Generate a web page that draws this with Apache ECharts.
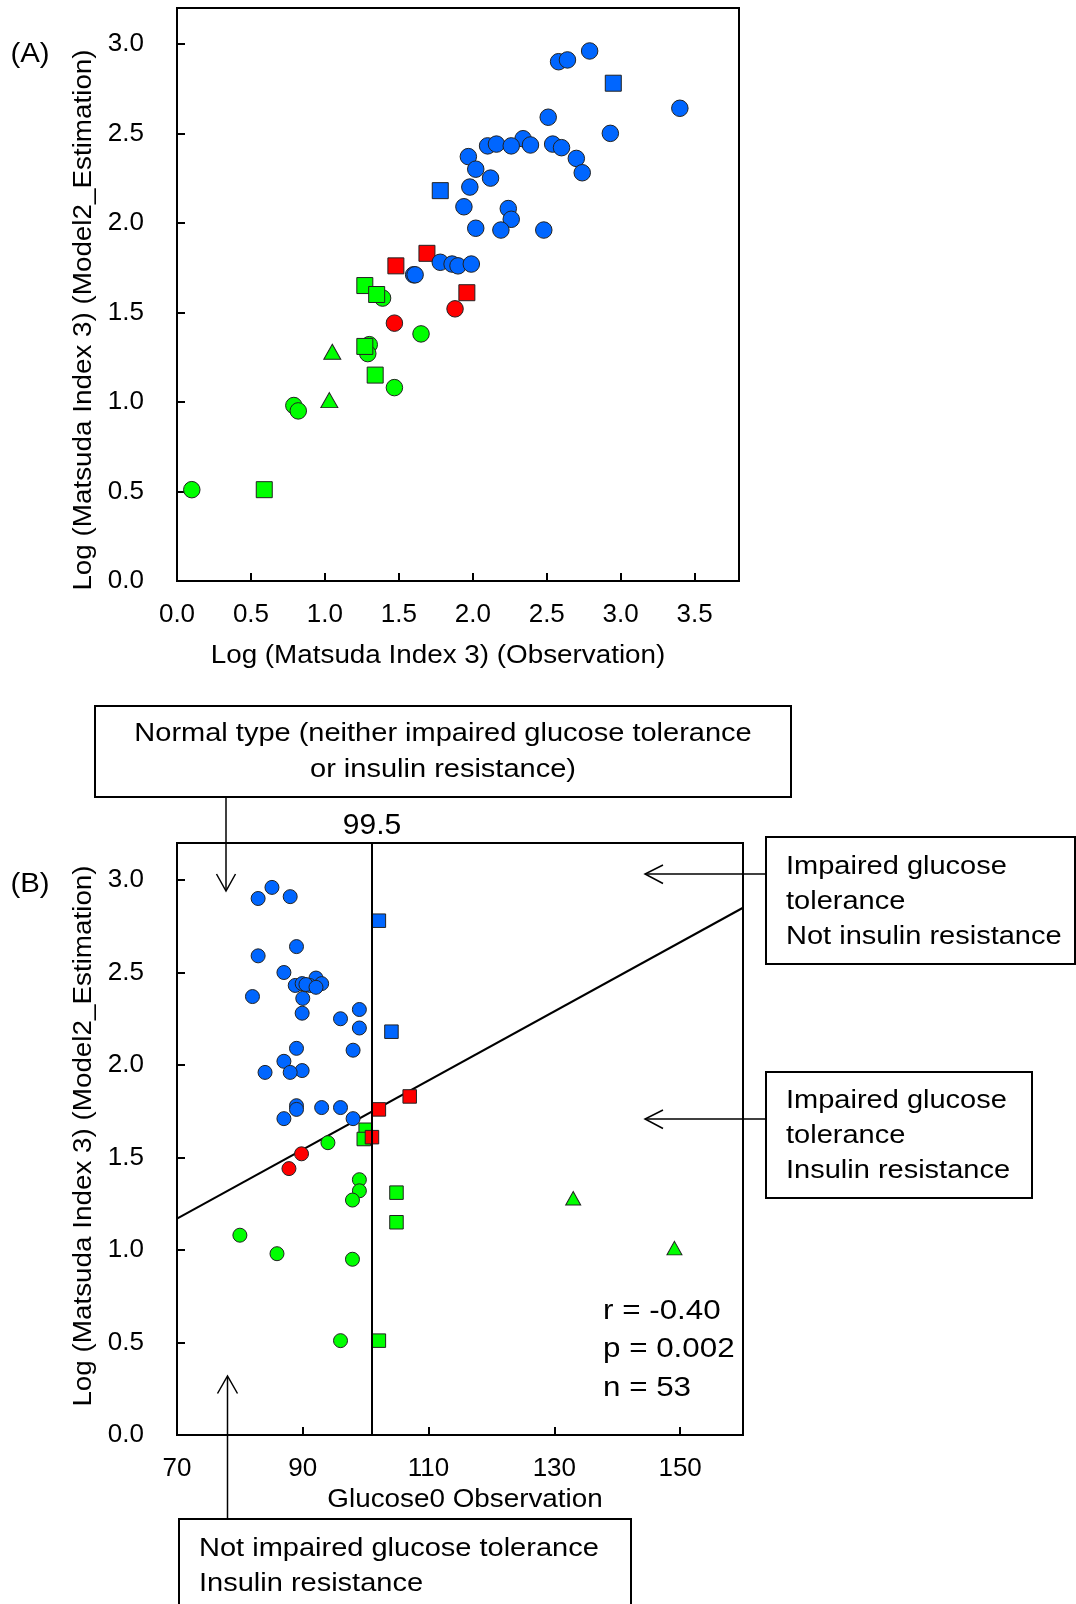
<!DOCTYPE html>
<html>
<head>
<meta charset="utf-8">
<title>Log Matsuda Index 3 - estimation vs observation</title>
<script src="https://cdn.jsdelivr.net/npm/echarts@6.0.0/dist/echarts.min.js"></script>
<style>
  html, body { margin: 0; padding: 0; background: #fff; }
  #chart { width: 1076px; height: 1604px; }
</style>
</head>
<body>
<div id="chart"></div>
<script>
// values, one entry per subject
// obs = log Matsuda observed (panel A x), est = model estimate (y of both panels), glu = fasting glucose (panel B x)
const blueCircleObs = [2.58, 2.64, 2.79, 3.40, 2.51, 2.93, 2.34, 2.10, 2.16, 2.26, 2.39, 2.54, 2.60, 1.97, 2.70, 2.02,
  2.74, 2.12, 1.98, 1.94, 2.24, 2.26, 2.02, 2.19, 2.48, 1.78, 1.86, 1.90, 1.99, 1.60, 1.61];
const blueCircleEst = [2.90, 2.91, 2.96, 2.64, 2.59, 2.50, 2.47, 2.43, 2.44, 2.43, 2.435, 2.44, 2.42, 2.37, 2.36, 2.30,
  2.28, 2.25, 2.20, 2.09, 2.08, 2.02, 1.97, 1.96, 1.96, 1.78, 1.77, 1.76, 1.77, 1.71, 1.71];
const blueCircleGlu = [82.9, 88.0, 85.1, 89.0, 82.9, 87.0, 92.1, 88.8, 89.9, 91.1, 90.5, 93.0, 92.1, 82.0, 90.0, 99.0,
  89.9, 96.0, 99.0, 89.0, 98.0, 87.0, 89.9, 88.0, 84.0, 89.0, 93.0, 89.0, 96.0, 87.0, 98.0];

const blueSquareObs = [2.95, 1.78];
const blueSquareEst = [2.78, 2.18];
const blueSquareGlu = [102.1, 104.1];

const greenCircleObs = [1.39, 1.65, 1.30, 1.29, 1.47, 0.79, 0.82, 0.10];
const greenCircleEst = [1.58, 1.38, 1.32, 1.27, 1.08, 0.98, 0.95, 0.51];
const greenCircleGlu = [94.0, 99.0, 99.0, 97.9, 80.0, 85.9, 97.9, 96.0];

const greenSquareObs = [1.27, 1.35, 1.27, 1.34, 0.59];
const greenSquareEst = [1.65, 1.60, 1.31, 1.15, 0.51];
const greenSquareGlu = [100.0, 99.7, 104.9, 104.9, 102.1];

const greenTriangleObs = [1.05, 1.03];
const greenTriangleEst = [1.28, 1.01];
const greenTriangleGlu = [133.0, 149.1];

const redCircleObs = [1.88, 1.47];
const redCircleEst = [1.52, 1.44];
const redCircleGlu = [89.8, 87.8];

const redSquareObs = [1.48, 1.69, 1.96];
const redSquareEst = [1.76, 1.83, 1.61];
const redSquareGlu = [102.1, 107.0, 101.0];

// regression line of panel B (end points) and glucose cut-off
const regGlu = [70, 160];
const regEst = [1.17, 2.85];
const cutoffGlu = 101;
const cutoffLabel = '99.5';

// tick labels
const ticksObs = [0, 0.5, 1.0, 1.5, 2.0, 2.5, 3.0, 3.5];
const ticksEst = [0, 0.5, 1.0, 1.5, 2.0, 2.5, 3.0];
const ticksGlu = [70, 90, 110, 130, 150];

const stats = ['r = -0.40', 'p = 0.002', 'n = 53'];

const FONT = '"Liberation Sans", Arial, Helvetica, sans-serif';
const BLUE = '#0066ff', RED = '#ff0000', GREEN = '#00ff00';

const chart = echarts.init(document.getElementById('chart'), null, { renderer: 'canvas' });

function pairs(xs, ys) {
  return xs.map((x, i) => [x, ys[i]]);
}

// one group gives a scatter series in each panel
function group(name, obs, est, glu, symbol, color, sizeA, sizeB) {
  const item = { color: color, borderColor: '#222', borderWidth: 1, opacity: 1 };
  return [
    { name: name, type: 'scatter', xAxisIndex: 0, yAxisIndex: 0, symbol: symbol, symbolSize: sizeA,
      itemStyle: item, data: pairs(obs, est), z: 3 },
    { name: name, type: 'scatter', xAxisIndex: 1, yAxisIndex: 1, symbol: symbol, symbolSize: sizeB,
      itemStyle: item, data: pairs(glu, est), z: 3 }
  ];
}

function axisCommon(ticks, fmt, margin) {
  return {
    type: 'value',
    axisLine: { show: true, onZero: false, lineStyle: { color: '#000', width: 2 } },
    axisTick: { show: true, inside: true, length: 8, lineStyle: { color: '#000', width: 2 }, customValues: ticks },
    axisLabel: { color: '#000', fontSize: 26, fontFamily: FONT, margin: margin, customValues: ticks, formatter: fmt },
    splitLine: { show: false }
  };
}

const fmt1 = v => Number(v).toFixed(1);
const fmt0 = v => String(Math.round(v));

function txt(x, y, text, size, sx, align, rot) {
  return {
    type: 'text', x: x, y: y, rotation: rot || 0, scaleX: sx, z: 10,
    style: { text: text, font: size + 'px ' + FONT, fill: '#000', textAlign: align || 'left', textVerticalAlign: 'middle' }
  };
}
function box(x, y, w, h) {
  return { type: 'rect', shape: { x: x, y: y, width: w, height: h }, z: 9,
    style: { fill: '#fff', stroke: '#000', lineWidth: 2 } };
}
function line(points) {
  return { type: 'polyline', shape: { points: points }, z: 11,
    style: { fill: null, stroke: '#000', lineWidth: 1.5 } };
}

// drawing order follows the figure: greens under reds under blues
const series = [].concat(
  group('Green circle', greenCircleObs, greenCircleEst, greenCircleGlu, 'circle', GREEN, 16.5, 14),
  group('Green square', greenSquareObs, greenSquareEst, greenSquareGlu, 'rect', GREEN, 16, 13.5),
  group('Green triangle', greenTriangleObs, greenTriangleEst, greenTriangleGlu, 'triangle', GREEN, [17, 15], [15, 13.5]),
  group('Red circle', redCircleObs, redCircleEst, redCircleGlu, 'circle', RED, 16.5, 14),
  group('Red square', redSquareObs, redSquareEst, redSquareGlu, 'rect', RED, 16, 13.5),
  group('Normal', blueCircleObs, blueCircleEst, blueCircleGlu, 'circle', BLUE, 16.5, 14),
  group('Normal (square)', blueSquareObs, blueSquareEst, blueSquareGlu, 'rect', BLUE, 16, 13.5)
);

series.push({
  name: 'Regression', type: 'line', xAxisIndex: 1, yAxisIndex: 1, data: pairs(regGlu, regEst),
  showSymbol: false, symbol: 'none', lineStyle: { color: '#000', width: 2 }, z: 2,
  markLine: {
    silent: true, symbol: ['none', 'none'],
    lineStyle: { color: '#000', width: 2, type: 'solid' },
    label: { show: true, position: 'end', formatter: cutoffLabel, fontSize: 30, color: '#000', fontFamily: FONT, distance: 2 },
    data: [{ xAxis: cutoffGlu }]
  }
});

const graphic = [
  txt(30, 54, '(A)', 28, 1.05, 'center'),
  txt(30, 884, '(B)', 28, 1.05, 'center'),
  txt(84, 320, 'Log (Matsuda Index 3) (Model2_Estimation)', 26, 1.07, 'center', Math.PI / 2),
  txt(84, 1136, 'Log (Matsuda Index 3) (Model2_Estimation)', 26, 1.07, 'center', Math.PI / 2),
  txt(438, 656, 'Log (Matsuda Index 3) (Observation)', 26, 1.07, 'center'),
  txt(465, 1500, 'Glucose0 Observation', 26, 1.07, 'center'),

  // top box with arrow
  box(95, 706, 696, 91),
  txt(443, 734, 'Normal type (neither impaired glucose tolerance', 25, 1.16, 'center'),
  txt(443, 770, 'or insulin resistance)', 25, 1.16, 'center'),
  line([[226, 797], [226, 890]]),
  line([[216.5, 874], [226, 891], [235.5, 874]]),

  // right upper box
  box(766, 837, 309, 127),
  txt(786, 867, 'Impaired glucose', 25, 1.16),
  txt(786, 902, 'tolerance', 25, 1.16),
  txt(786, 937, 'Not insulin resistance', 25, 1.16),
  line([[766, 874], [645, 874]]),
  line([[663, 865], [645, 874], [663, 883.5]]),

  // right lower box
  box(766, 1072, 266, 126),
  txt(786, 1101, 'Impaired glucose', 25, 1.16),
  txt(786, 1136, 'tolerance', 25, 1.16),
  txt(786, 1171, 'Insulin resistance', 25, 1.16),
  line([[766, 1119], [645, 1119]]),
  line([[663, 1110], [645, 1119], [663, 1128.5]]),

  // bottom box
  box(179, 1519, 452, 110),
  txt(199, 1549, 'Not impaired glucose tolerance', 25, 1.16),
  txt(199, 1584, 'Insulin resistance', 25, 1.16),
  line([[227.5, 1519], [227.5, 1377]]),
  line([[217.5, 1393.5], [227.5, 1376], [237.5, 1393.5]]),

  // statistics
  txt(603, 1311, stats[0], 28, 1.12),
  txt(603, 1349, stats[1], 28, 1.12),
  txt(603, 1388, stats[2], 28, 1.12)
];

chart.setOption({
  animation: false,
  backgroundColor: '#fff',
  grid: [
    { left: 177, top: 8, width: 562, height: 573, show: true, borderColor: '#000', borderWidth: 2,
      containLabel: false, outerBoundsMode: 'none' },
    { left: 177, top: 843, width: 566, height: 592, show: true, borderColor: '#000', borderWidth: 2,
      containLabel: false, outerBoundsMode: 'none' }
  ],
  xAxis: [
    Object.assign(axisCommon(ticksObs, fmt1, 21), { gridIndex: 0, min: 0, max: 3.8 }),
    Object.assign(axisCommon(ticksGlu.slice(1), fmt0, 21), { gridIndex: 1, min: 70, max: 160,
      axisLabel: { color: '#000', fontSize: 26, fontFamily: FONT, margin: 21, customValues: ticksGlu, formatter: fmt0 } })
  ],
  yAxis: [
    Object.assign(axisCommon(ticksEst, fmt1, 33), { gridIndex: 0, min: 0, max: 3.2 }),
    Object.assign(axisCommon(ticksEst, fmt1, 33), { gridIndex: 1, min: 0, max: 3.2 })
  ],
  series: series,
  graphic: graphic
});
</script>
</body>
</html>
